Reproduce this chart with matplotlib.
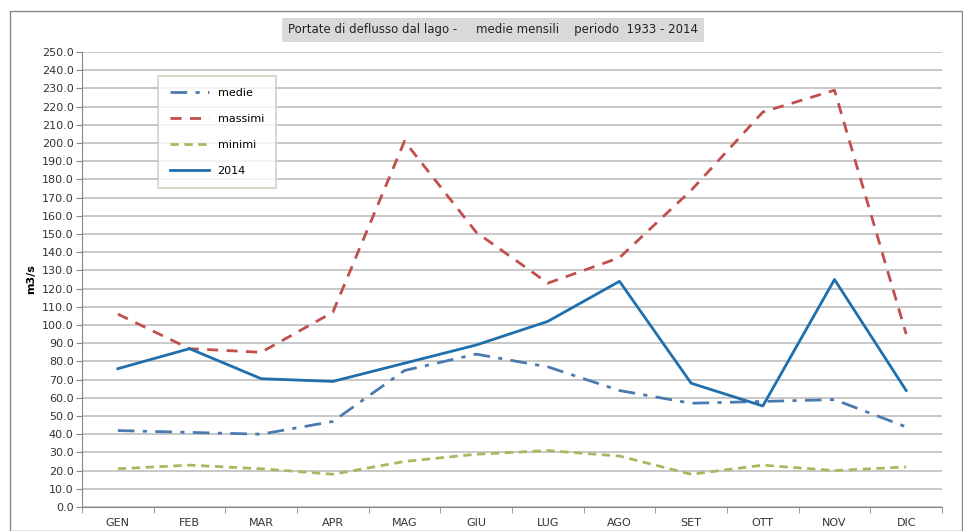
import numpy as np
import matplotlib.pyplot as plt
from matplotlib.patches import Rectangle

# monthly discharge data
mesi = ['GEN', 'FEB', 'MAR', 'APR', 'MAG', 'GIU', 'LUG', 'AGO', 'SET', 'OTT', 'NOV', 'DIC']
medie = [42, 41, 40, 47, 75, 84, 77, 64, 57, 58, 59, 44]
massimi = [106, 87, 85, 107, 201, 151, 123, 137, 174, 217, 229, 95]
minimi = [21, 23, 21, 18, 25, 29, 31, 28, 18, 23, 20, 22]
anno2014 = [76, 87, 70.5, 69, 79, 89, 102, 124, 68, 55.5, 125, 64]

fig = plt.figure(figsize=(9.63, 5.31), dpi=100)
ax = fig.add_axes([82/963, 24/531, 860/963, 455/531])

x = np.arange(len(mesi))
ax.plot(x, medie, color='#4a7ab0', lw=2, linestyle=(0, (6, 3, 1.5, 3)), label='medie')
ax.plot(x, massimi, color='#c0504d', lw=2, linestyle=(0, (4, 3)), label='massimi')
ax.plot(x, minimi, color='#a8b860', lw=2, linestyle=(0, (3, 2)), label='minimi')
ax.plot(x, anno2014, color='#1f6fad', lw=2, label='2014')

ax.set_xlim(-0.5, 11.5)
ax.set_ylim(0, 250)
ax.set_yticks(np.arange(0, 251, 10))
ax.set_yticklabels(['%.1f' % v for v in np.arange(0, 251, 10)], fontsize=8, color='#333333')
ax.set_xticks(x)
ax.set_xticklabels(mesi, fontsize=8, color='#333333')
ax.set_xticks(np.arange(-0.5, 12, 1), minor=True)
ax.tick_params(axis='x', which='major', length=0, pad=8)
ax.tick_params(axis='x', which='minor', length=4, color='#888888')
ax.tick_params(axis='y', length=4, color='#888888', pad=2)
ax.grid(axis='y', color='#c4c4c4', lw=1.3)
ax.set_axisbelow(True)
for s in ['top', 'right']:
    ax.spines[s].set_visible(False)
ax.spines['left'].set_color('#888888')
ax.spines['bottom'].set_color('#888888')
ax.set_ylabel('m3/s', fontsize=8, fontweight='bold', labelpad=4)

leg = ax.legend(loc='upper left', bbox_to_anchor=(70/860, 437/455), fontsize=8,
                frameon=True, fancybox=False, edgecolor='#c8c8b0', handlelength=3.5,
                labelspacing=1.45, borderpad=1.1)
leg.get_frame().set_linewidth(1.2)

fig.text(493/963, 1 - 30/531, 'Portate di deflusso dal lago -     medie mensili    periodo  1933 - 2014',
         ha='center', va='center', fontsize=8.5, color='#222222',
         bbox=dict(facecolor='#d9d9d9', edgecolor='none', pad=4))

fig.patches.append(Rectangle((10/963, 0), 952/963, 1 - 11/531, transform=fig.transFigure,
                             fill=False, edgecolor='#888888', lw=1))

fig.savefig('out.png', dpi=100)
